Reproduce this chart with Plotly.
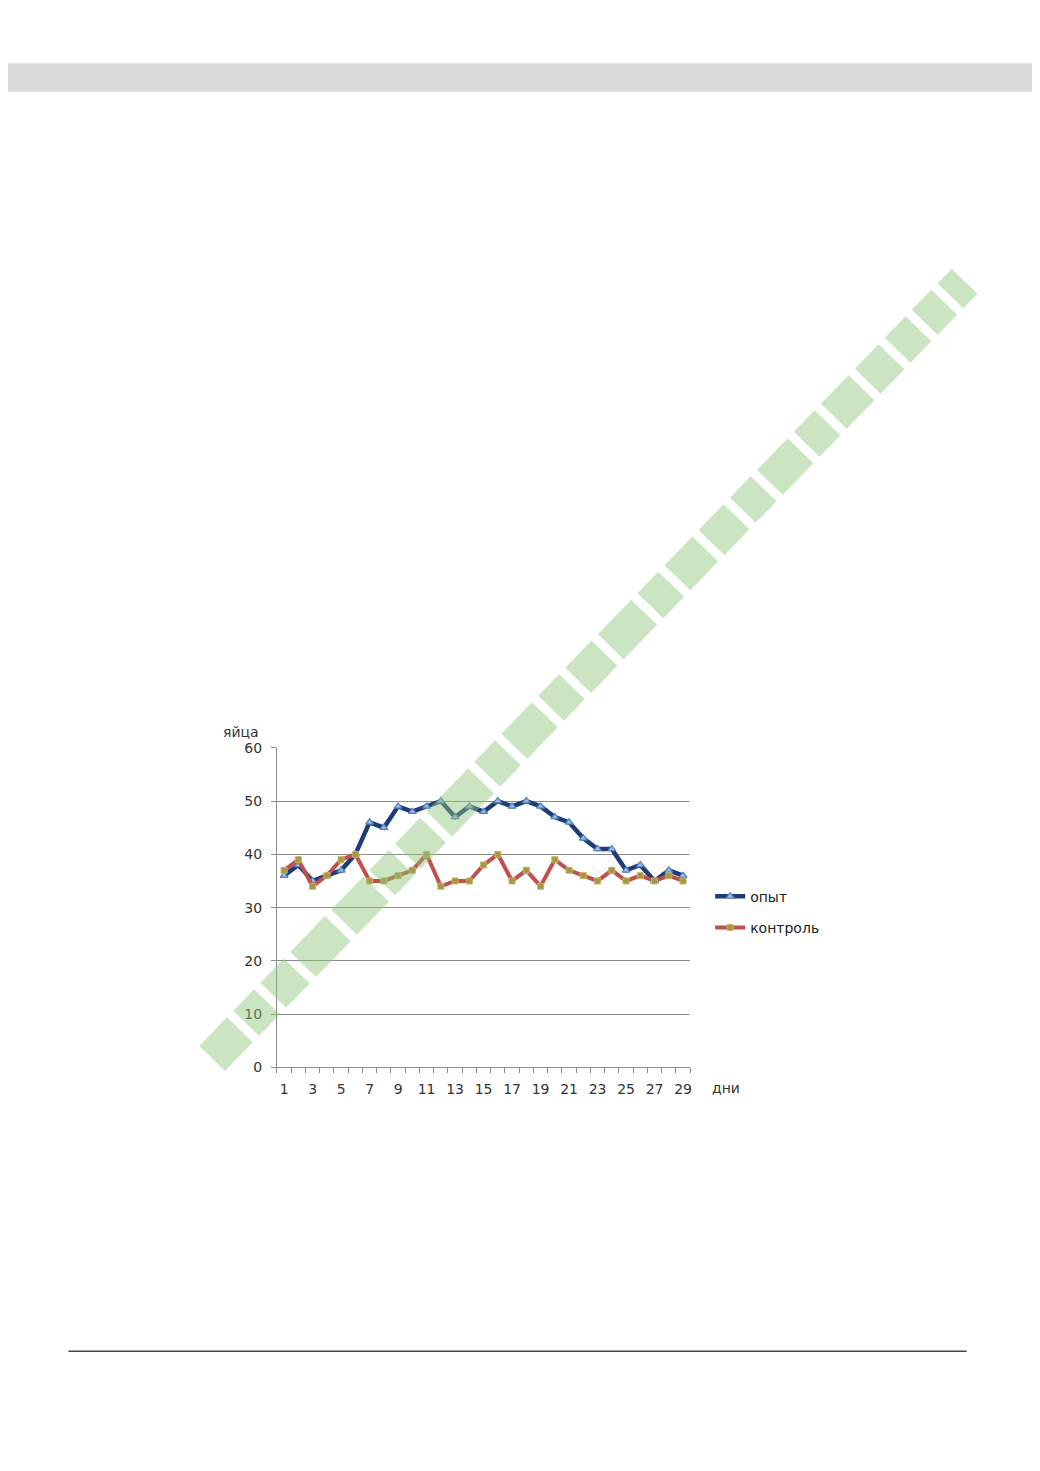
import plotly.graph_objects as go
import math

W, H = 1040, 1471

days = list(range(1, 30))
opyt = [36, 38, 35, 36, 37, 40, 46, 45, 49, 48, 49, 50, 47, 49, 48, 50, 49, 50, 49, 47,
        46, 43, 41, 41, 37, 38, 35, 37, 36]
kontrol = [37, 39, 34, 36, 39, 40, 35, 35, 36, 37, 40, 34, 35, 35, 38, 40, 35, 37, 34, 39,
           37, 36, 35, 37, 35, 36, 35, 36, 35]
tick_days = days[::2]
y_ticks = [0, 10, 20, 30, 40, 50, 60]

# compensation for page offset of the viewer
DX, DY, SY = 7.5, 14.6, 0.99


def px(x):
    return (x - DX) / W


def py(y):
    return 1 - ((y - DY) / SY) / H


fig = go.Figure()
fig.add_trace(go.Scatter(
    x=days, y=opyt, name="опыт", mode="lines+markers", legendgroup="a",
    line=dict(color="#1F3C78", width=4.5),
    marker=dict(symbol="triangle-up", size=7, color="#9DBBE3",
                line=dict(color="#4F81BD", width=1.2)),
))
fig.add_trace(go.Scatter(
    x=days, y=kontrol, name="контроль", mode="lines+markers", legendgroup="b",
    line=dict(color="#C0504D", width=4),
    marker=dict(symbol="square", size=6, color="#9E9A48",
                line=dict(color="#D2AE62", width=1)),
))

shapes = []
# header bar
shapes.append(dict(type="rect", xref="paper", yref="paper", x0=-0.02, x1=1.02, y0=py(90), y1=py(62),
                   fillcolor="#D9D9D9", line=dict(color="#E6E6E6", width=1), layer="below"))
# footer line
shapes.append(dict(type="line", xref="paper", yref="paper", x0=px(68), x1=px(968),
                   y0=py(1351), y1=py(1351), line=dict(color="#444444", width=1.5)))

# watermark: band of rotated blocks along a diagonal
sx, sy = 212, 1058
ex, ey = 966, 280
L = math.hypot(ex - sx, ey - sy)
ux, uy = (ex - sx) / L, (ey - sy) / L
nx, ny = -uy, ux
segs = [40, 30, 34, 50, 46, 28, 36, 60, 30, 44, 30, 38, 48, 30, 40, 36, 30, 44, 30, 40,
        34, 30, 28, 40, 36, 30, 44, 30, 30, 36, 40, 30]
gap = 9
half = 18
pos = 0
for s in segs:
    if pos + s > L:
        s = L - pos
    if s <= 0:
        break
    pts = []
    for (a, b) in [(pos, -half), (pos + s, -half), (pos + s, half), (pos, half)]:
        X = sx + ux * a + nx * b
        Y = sy + uy * a + ny * b
        pts.append((px(X), py(Y)))
    path = "M " + " L ".join(f"{p[0]:.5f},{p[1]:.5f}" for p in pts) + " Z"
    shapes.append(dict(type="path", xref="paper", yref="paper", path=path,
                       fillcolor="rgba(140,198,120,0.45)", line=dict(width=0), layer="above"))
    pos += s + gap

fig.update_layout(
    width=W, height=H,
    margin=dict(l=0, r=0, t=0, b=0),
    paper_bgcolor="white", plot_bgcolor="white",
    font=dict(family="DejaVu Sans", size=14, color="#333333"),
    showlegend=True,
    legend=dict(x=px(711), y=py(880), xanchor="left", yanchor="top",
                font=dict(size=14, color="#222222"), tracegroupgap=10,
                bgcolor="rgba(0,0,0,0)", itemwidth=30),
    shapes=shapes,
    xaxis=dict(domain=[px(277), px(691)], range=[0.5, 29.5], showgrid=False,
               tickvals=tick_days, ticktext=[str(d) for d in tick_days],
               ticks="", showline=True, linecolor="#8C8C8C", linewidth=1,
               zeroline=False, tickfont=dict(size=14, color="#333333"),
               ticklabelstandoff=9,
               minor=dict(ticks="outside", tick0=0.5, dtick=1, ticklen=5,
                          tickcolor="#8C8C8C", showgrid=False)),
    yaxis=dict(domain=[py(1067), py(747)], range=[0, 60], tickvals=y_ticks,
               showgrid=True, gridcolor="#8C8C8C", gridwidth=1,
               ticks="outside", ticklen=5, tickcolor="#8C8C8C",
               showline=True, linecolor="#8C8C8C", linewidth=1, zeroline=False,
               ticklabelstandoff=6,
               tickfont=dict(size=14, color="#333333")),
    annotations=[
        dict(text="яйца", xref="paper", yref="paper", x=px(221), y=py(731),
             xanchor="left", yanchor="middle", showarrow=False,
             font=dict(size=14, color="#333333")),
        dict(text="дни", xref="paper", yref="paper", x=px(711), y=py(1088),
             xanchor="left", yanchor="middle", showarrow=False,
             font=dict(size=14, color="#333333")),
    ],
)

fig.write_html("out.html")
